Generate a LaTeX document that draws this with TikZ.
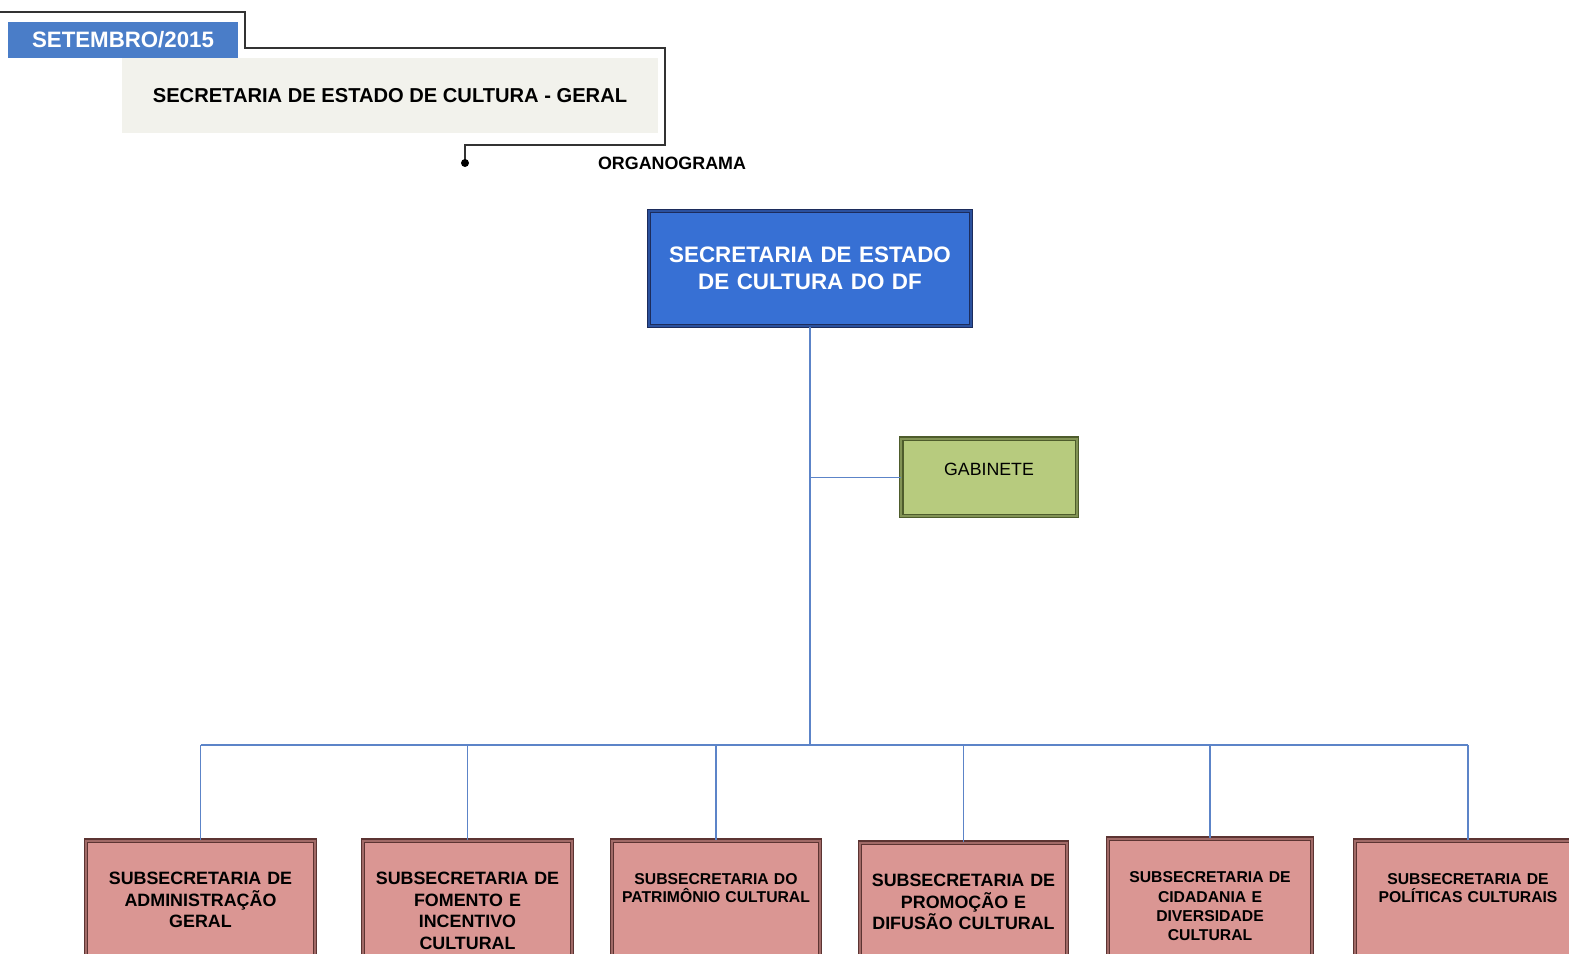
\documentclass[tikz,border=0pt]{standalone}
\usepackage{fontspec}
\setmainfont{Liberation Sans}
\usepackage{tikz}
\definecolor{setblue}{RGB}{74,125,200}
\definecolor{mainblue}{RGB}{55,112,212}
\definecolor{navy}{RGB}{28,44,92}
\definecolor{gabfill}{RGB}{183,203,126}
\definecolor{gabline}{RGB}{78,92,44}
\definecolor{subfill}{RGB}{218,150,147}
\definecolor{subline}{RGB}{92,52,50}
\definecolor{linkblue}{RGB}{92,132,200}
\definecolor{hdrgray}{RGB}{242,242,236}

\begin{document}
\begin{tikzpicture}[
  x=0.75pt, y=-0.75pt,
  box/.style={rectangle, draw=#1, line width=1.1pt, double distance=1.2pt, align=center},
  mainbox/.style={box=navy, double=navy!45!mainblue, fill=mainblue, text=white, minimum width=241.5pt, minimum height=86.25pt, text width=230pt, font=\bfseries\fontsize{16.8}{20}\selectfont},
  gabbox/.style={box=gabline, double=gabline!50!gabfill, fill=gabfill, anchor=north, text width=125pt, inner ysep=27.4pt, text height=0pt, text depth=3pt, font=\fontsize{13.3}{16}\selectfont},
  subbox/.style={box=subline, double=subline!45!subfill, fill=subfill, anchor=north, text width=#1, inner xsep=4pt, inner ysep=33pt, text height=0pt, text depth=120pt, font=\bfseries\fontsize{13.4}{16.2}\selectfont},
  smalltxt/.style={font=\bfseries\fontsize{11.8}{13.6}\selectfont},
  link/.style={draw=linkblue, line width=1.1pt}
]
\useasboundingbox (0,0) rectangle (1569,953);
\clip (0,0) rectangle (1569,953);

% Header - title block
\node[fill=hdrgray, minimum width=402pt, minimum height=56.25pt, font=\bfseries\fontsize{15.1}{18}\selectfont] (hdr) at (390,95.5) {SECRETARIA DE ESTADO DE CULTURA - GERAL};
\node[fill=setblue, text=white, minimum width=172.5pt, minimum height=27pt, font=\bfseries\fontsize{16.7}{20}\selectfont] (date) at (123,40) {SETEMBRO/2015};
\coordinate (dot) at (465,163);
\draw[line width=1.1pt, black!80] (0,12) -- (245,12) -- (245,48) -- (665,48) -- (665,145) -- (465,145) -- (dot);
\fill[black] (dot) circle (3pt);
\node[font=\bfseries\fontsize{13.4}{16}\selectfont] (org) at (672,163) {ORGANOGRAMA};

% Top of the chart
\node[mainbox] (sec) at (810,268.5) {SECRETARIA DE ESTADO\\DE CULTURA DO DF};
\node[gabbox] (gab) at (989,438) {GABINETE};

% Bottom row - subsecretarias
\node[subbox=163.75pt] (adm) at (200.5,840) {SUBSECRETARIA DE\\ADMINISTRAÇÃO\\GERAL};
\node[subbox=148.75pt] (fom) at (467.5,840) {SUBSECRETARIA DE\\FOMENTO E\\INCENTIVO\\CULTURAL};
\node[subbox=148pt, smalltxt] (pat) at (716,840) {SUBSECRETARIA DO\\PATRIMÔNIO CULTURAL};
\node[subbox=147.25pt] (pro) at (963.5,842) {SUBSECRETARIA DE\\PROMOÇÃO E\\DIFUSÃO CULTURAL};
\node[subbox=145pt, smalltxt, font=\bfseries\fontsize{11.8}{14.5}\selectfont] (cid) at (1210,838) {SUBSECRETARIA DE\\CIDADANIA E\\DIVERSIDADE\\CULTURAL};
\node[subbox=161.5pt, smalltxt] (pol) at (1468,840) {SUBSECRETARIA DE\\POLÍTICAS CULTURAIS};

% Connectors
\coordinate (bus) at (810,745);
\draw[link] (sec.south) -- (bus);
\draw[link] (sec.south |- gab.west) -- (gab.west);
\draw[link] (bus -| adm.north) -- (bus -| pol.north);
\foreach \n in {adm,fom,pat,pro,cid,pol}
  \draw[link] (bus -| \n.north) -- (\n.north);

\end{tikzpicture}
\end{document}
